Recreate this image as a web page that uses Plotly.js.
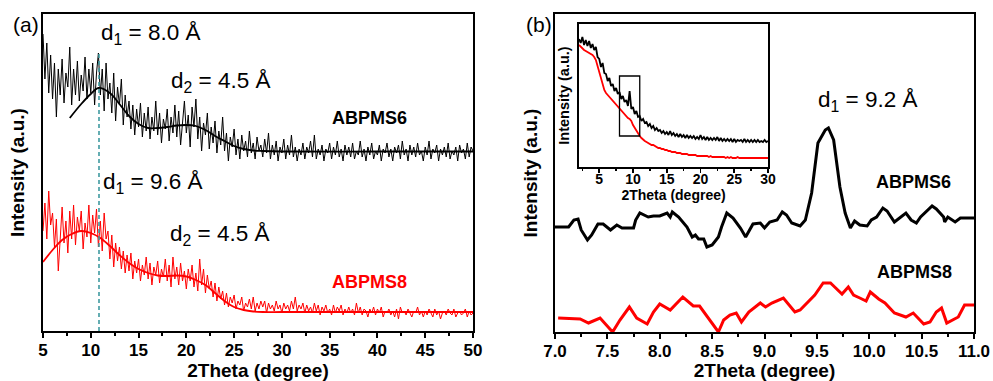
<!DOCTYPE html>
<html>
<head>
<meta charset="utf-8">
<script src="https://cdn.plot.ly/plotly-3.0.1.min.js"></script>
<style>html,body{margin:0;padding:0;background:#fff}#chart{width:993px;height:381px}</style>
</head>
<body>
<div id="chart"></div>
<script>
// ---------- Panel (a): wide-angle XRD, 2Theta 5..50 (step 0.2) ----------
const aStart = 5, aStep = 0.2;
const abpms6_a = [
297,252,288,238,276, 232,268,214,262,236, 272,228,258,244,284, 226,262,236,270,230,
256,240,274,232,262, 238,268,226,258,278, 236,262,220,268,232, 248,218,258,210,244,
226,252,206,236,214, 230,202,226,196,222, 204,228,194,218,200, 224,192,214,200,230,
196,218,188,212,202, 222,190,214,198,226, 194,220,186,212,230, 198,216,184,224,204,
232,192,214,180,208, 196,218,182,204,188, 210,178,200,186,214, 180,198,170,194,184,
202,176,192,172,196, 180,190,174,200,178, 188,172,194,180,186, 174,192,178,198,172,
186,176,190,170,184, 178,192,172,186,176, 196,174,184,170,182, 176,188,172,184,178,
190,174,196,172,182, 176,186,170,182,178, 188,172,184,176,190, 174,182,170,186,176,
184,174,188,172,180, 176,190,174,182,170, 184,176,188,172,180, 176,186,170,182,178,
188,174,182,170,184, 178,186,172,190,176, 182,170,186,176,184, 174,188,176,180,170,
184,176,190,172,182, 178,186,170,182,176, 184,174,188,172,180, 176,184,170,186,178,
182,172,188,174,184, 180];
const abpms8_a = [
100,128,92,140,106, 118,84,112,60,96, 124,88,110,78,120, 92,126,86,114,100,
120,82,108,94,126, 88,116,98,122,84, 110,80,118,92,100, 72,96,64,88,70,
84,62,80,58,76, 60,78,52,70,58, 72,50,66,56,74, 52,68,46,64,56,
70,48,62,54,72, 50,66,44,74,52, 64,46,68,50,60, 42,62,50,66,44,
58,40,72,46,62, 38,56,42,50,34, 48,30,44,32,40, 26,38,24,34,28,
36,22,30,26,34, 20,28,24,32,22, 34,20,28,22,30, 24,30,18,28,22,
26,20,30,22,26, 18,28,22,26,20, 30,22,34,20,26, 22,28,18,26,20,
24,18,28,20,26, 16,24,20,26,18, 22,16,26,18,24, 20,26,16,22,18,
24,18,22,16,28, 18,24,16,22,20, 14,22,18,24,16, 22,18,24,14,20,
18,22,16,20,14, 22,12,24,18,20, 16,22,18,14,20, 18,24,16,20,14,
20,16,22,18,14, 22,16,20,12,18, 20,16,22,18,16, 22,14,18,20,16,
18,22,14,20,16, 18];
// Gaussian-fit envelopes
const fit6X = [7.8,9,10,10.8,12,13,14,15,16,17,18,19,20,21,22,23,24,25,26,27,28,30,40,50];
const fit6Y = [213,227,237,243,238,227,215,207,203,203,204,205.5,206,205,201,195,190,185,182,180.5,180,179.5,179.5,179.5];
const fit8X = [5,6,7,8,9,10,11,12,13,14,15,16,17,18,19,20,21,22,23,24,25,26,27,28,30,40,50];
const fit8Y = [69,81,91,97,100,98,93,85,76,68,62,58,55.5,55,55.5,54.5,51,46,38,30,24,21,19.5,19,19,19,19];
const d1LineX = 10.86, d1LineTop = 279;

// ---------- Panel (b): small-angle zoom 7..11 ----------
const bX6 = [7.0,7.13,7.18,7.22,7.25,7.31,7.35,7.41,7.46,7.53,7.59,7.64,7.75,7.77,7.81,7.89,7.94,8.0,8.07,8.10,8.12,8.18,8.26,8.31,8.34,8.37,8.42,8.45,8.50,8.56,8.59,8.64,8.70,8.77,8.82,8.89,8.96,9.0,9.05,9.12,9.17,9.21,9.26,9.34,9.39,9.45,9.51,9.58,9.61,9.66,9.72,9.77,9.82,9.86,9.91,9.98,10.02,10.07,10.13,10.17,10.24,10.35,10.40,10.45,10.49,10.60,10.64,10.71,10.72,10.75,10.82,10.87,11.0];
const bY6 = [105,105,112,113,102,92,97,108,108,102,107,104,104,112,119,115,116,116,119,115,120,115,105,95,97,93,93,85,87,95,105,119,114,104,95,108,109,104,110,112,120,117,109,106,112,139,189,202,204,192,145,119,104,111,107,106,112,115,124,121,110,119,112,109,115,126,123,115,110,115,110,114,114];
const bX8 = [7.03,7.24,7.32,7.43,7.55,7.62,7.71,7.78,7.88,7.94,8.0,8.10,8.22,8.32,8.38,8.56,8.61,8.67,8.73,8.78,8.85,8.96,9.01,9.07,9.18,9.29,9.34,9.48,9.56,9.63,9.67,9.74,9.80,9.85,9.91,9.97,10.01,10.09,10.15,10.24,10.35,10.42,10.52,10.58,10.64,10.69,10.74,10.85,10.91,11.0];
const bY8 = [14,13,9,14,0,12,25,14,8,20,28,22,35,26,26,0,12,17,19,10,20,29,25,29,34,20,22,37,49,49,45,38,45,37,34,31,40,33,29,19,15,19,8,10,20,24,9,15,27,27];

// ---------- Inset: full small-angle scan 2..30 (step 0.25) ----------
const inStart = 2, inStep = 0.25;
const inset6 = [
128,124,130,122, 127,121,126,119, 123,117,120,110, 108,100,104,94, 93,86,89,81,
83,76,79,73, 75,68,71,65, 67,61,76,58, 60,53,56,50, 51,46,48,44, 45,41,43,39,
41,37,39,36, 37,34,36,33, 35,32,36,32, 34,31,33,30, 33,30,32,29, 32,29,31,29,
31,28,30,28, 32,28,30,27, 30,27,29,27, 29,27,30,26, 29,26,28,26, 28,26,28,25,
28,25,27,26, 27,25,28,25, 27,25,27,25, 27,25,27,25, 26,25,27,25, 26];
const inset8 = [
122,120,119,117, 116,115,114,113, 112,110,107,101, 95,88,81,77, 74,72,70,68,
67,65,63,61, 59,57,55,53, 51,49,48,46, 42,39,36,33, 31,29,27,26, 25,24,23,22,
22,21,20,19, 19,18,18,17, 17,16,16,15, 15,15,14,14, 14,13,13,13, 13,12,12,12,
12,12,11,11, 11,11,11,11, 11,10,11,10, 10,10,10,10, 10,10,10,9, 10,9,10,9,
9,9,10,9, 9,9,9,9, 9,9,9,9, 9,9,9,9, 9,9,9,9, 9];
const zoomBoxX = [8, 11], zoomBoxY = [31, 91];

// ---------- build ----------
const grid = (start, step, n) => Array.from({length: n}, (_, i) => +(start + step * i).toFixed(3));
const xA = grid(aStart, aStep, abpms6_a.length);
const xIn = grid(inStart, inStep, inset6.length);

const W = 993, H = 381;
const fx = v => v / W, fy = v => 1 - v / H;
const FONT = 'Liberation Sans, Arial, sans-serif';
const RED = '#ff0000', TEAL = '#3f9aa0';

const traces = [
  {x: xA, y: abpms6_a, xaxis: 'x', yaxis: 'y', mode: 'lines', line: {color: '#000', width: 1}},
  {x: fit6X, y: fit6Y, xaxis: 'x', yaxis: 'y', mode: 'lines', line: {color: '#000', width: 1.8, shape: 'spline'}},
  {x: xA, y: abpms8_a, xaxis: 'x', yaxis: 'y', mode: 'lines', line: {color: RED, width: 1}},
  {x: fit8X, y: fit8Y, xaxis: 'x', yaxis: 'y', mode: 'lines', line: {color: RED, width: 1.8, shape: 'spline'}},
  {x: [d1LineX, d1LineX], y: [0, d1LineTop], xaxis: 'x', yaxis: 'y', mode: 'lines', line: {color: TEAL, width: 1.6, dash: '4px,3px'}},
  {x: bX6, y: bY6, xaxis: 'x2', yaxis: 'y2', mode: 'lines', line: {color: '#000', width: 3}},
  {x: bX8, y: bY8, xaxis: 'x2', yaxis: 'y2', mode: 'lines', line: {color: RED, width: 3}, cliponaxis: false},
  {x: xIn, y: inset6, xaxis: 'x3', yaxis: 'y3', mode: 'lines', line: {color: '#000', width: 1.8}},
  {x: xIn, y: inset8, xaxis: 'x3', yaxis: 'y3', mode: 'lines', line: {color: RED, width: 1.8}}
];

const axBase = {showline: true, linecolor: '#000', linewidth: 2, mirror: true, showgrid: false, zeroline: false, fixedrange: true};
const xBase = Object.assign({}, axBase, {ticks: 'outside', ticklen: 5, tickwidth: 2, tickcolor: '#000',
  tickprefix: '<b>', ticksuffix: '</b>', ticklabelstandoff: -2,
  tickfont: {family: FONT, size: 17, color: '#000', weight: 'bold'}});
const yBase = Object.assign({}, axBase, {ticks: '', showticklabels: false});
const titleFont = {family: FONT, size: 19, color: '#000', weight: 'bold'};

const layout = {
  width: W, height: H, margin: {l: 0, r: 0, t: 0, b: 0}, showlegend: false,
  paper_bgcolor: '#fff', plot_bgcolor: 'rgba(0,0,0,0)',
  xaxis: Object.assign({}, xBase, {domain: [fx(43), fx(473)], range: [5, 50], anchor: 'y', tick0: 5, dtick: 5,
    minor: {ticks: 'outside', ticklen: 3, tickwidth: 2, tickcolor: '#000', tick0: 5, dtick: 2.5},
    title: {text: '2Theta (degree)', font: titleFont, standoff: 6}}),
  yaxis: Object.assign({}, yBase, {domain: [fy(331), fy(14)], range: [0, 317], anchor: 'x',
    title: {text: 'Intensity (a.u.)', font: titleFont, standoff: 11}}),
  xaxis2: Object.assign({}, xBase, {domain: [fx(555), fx(974)], range: [7, 11], anchor: 'y2', tick0: 7, dtick: 0.5, tickformat: '.1f',
    minor: {ticks: 'outside', ticklen: 3, tickwidth: 2, tickcolor: '#000', tick0: 7, dtick: 0.25},
    title: {text: '2Theta (degree)', font: titleFont, standoff: 6}}),
  yaxis2: Object.assign({}, yBase, {domain: [fy(332), fy(14)], range: [0, 318], anchor: 'x2',
    title: {text: 'Intensity (a.u.)', font: titleFont, standoff: 10}}),
  xaxis3: Object.assign({}, xBase, {domain: [fx(579), fx(768)], range: [2, 30], anchor: 'y3', tick0: 0, dtick: 5,
    linewidth: 1.6, ticklen: 4, tickwidth: 1.6, ticklabelstandoff: -5,
    tickfont: {family: FONT, size: 14, color: '#000', weight: 'bold'},
    minor: {ticks: 'outside', ticklen: 2.5, tickwidth: 1.5, tickcolor: '#000', tick0: 0, dtick: 2.5},
    title: {text: '2Theta (degree)', font: {family: FONT, size: 14, color: '#000', weight: 'bold'}, standoff: 0}}),
  yaxis3: Object.assign({}, yBase, {domain: [fy(167), fy(24)], range: [0, 143], anchor: 'x3', linewidth: 1.6,
    title: {text: 'Intensity (a.u.)', font: {family: FONT, size: 14.5, color: '#000', weight: 'bold'}, standoff: 4}}),
  shapes: [
    {type: 'rect', xref: 'x3', yref: 'y3', x0: zoomBoxX[0], x1: zoomBoxX[1], y0: zoomBoxY[0], y1: zoomBoxY[1],
     line: {color: '#000', width: 1.3}, fillcolor: 'rgba(0,0,0,0)'}
  ],
  annotations: []
};

const ann = (text, x, y, size, opts) => Object.assign({text: text, xref: 'paper', yref: 'paper', x: fx(x), y: fy(y),
  xanchor: 'left', yanchor: 'middle', showarrow: false,
  font: {family: FONT, size: size, color: '#000'}}, opts || {});
layout.annotations.push(
  ann('(a)', 11, 25, 21),
  ann('(b)', 524, 25, 21),
  ann('d<sub>1</sub> = 8.0 Å', 99, 34, 22.5),
  ann('d<sub>2</sub> = 4.5 Å', 169, 82, 22.5),
  ann('d<sub>1</sub> = 9.6 Å', 101, 183, 22.5),
  ann('d<sub>2</sub> = 4.5 Å', 168, 235, 22.5),
  ann('ABPMS6', 330, 118, 18, {font: {family: FONT, size: 18, color: '#000', weight: 'bold'}}),
  ann('ABPMS8', 330, 282, 18, {font: {family: FONT, size: 18, color: RED, weight: 'bold'}}),
  ann('d<sub>1</sub> = 9.2 Å', 816, 101, 22.5),
  ann('ABPMS6', 874, 182, 18, {font: {family: FONT, size: 18, color: '#000', weight: 'bold'}}),
  ann('ABPMS8', 875, 272, 18, {font: {family: FONT, size: 18, color: '#000', weight: 'bold'}})
);

Plotly.newPlot('chart', traces, layout, {staticPlot: true, displayModeBar: false});
</script>
</body>
</html>
